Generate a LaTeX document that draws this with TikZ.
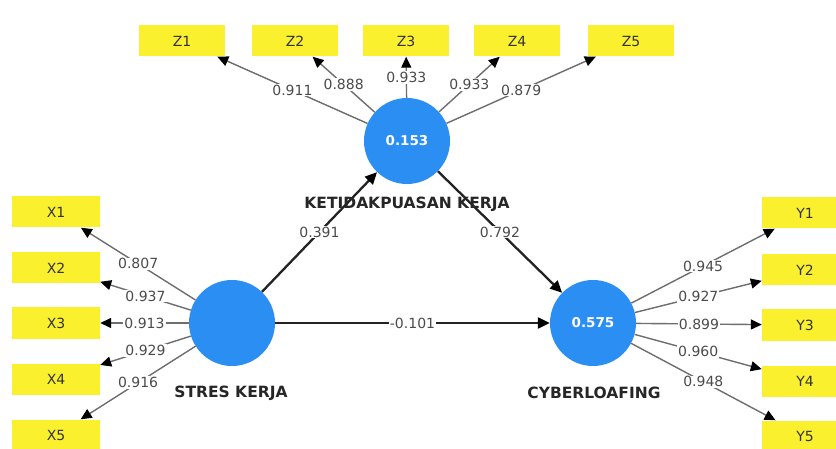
\documentclass[tikz,border=0pt]{standalone}
\usepackage{fontspec}
\setmainfont{DejaVu Sans}
\usetikzlibrary{arrows.meta}
\definecolor{lvblue}{RGB}{42,142,242}
\definecolor{mvyellow}{RGB}{250,240,45}
\definecolor{numgray}{RGB}{75,75,75}
\definecolor{linegray}{RGB}{110,110,110}
\definecolor{pathdark}{RGB}{35,35,35}
\begin{document}
\begin{tikzpicture}[x=1pt,y=-1pt,
  latent/.style={circle,fill=lvblue,minimum size=86pt,inner sep=0pt,text=white,
    font=\fontsize{13.5}{15}\selectfont\bfseries},
  manifest/.style={rectangle,fill=mvyellow,minimum width=86pt,minimum height=31pt,
    inner sep=0pt,text=black!80,font=\fontsize{14}{16}\selectfont},
  lvname/.style={text=black!85,font=\fontsize{15.5}{17}\selectfont\bfseries},
  loading/.style={draw=linegray,line width=1.4pt,
    -{Triangle[length=11pt,width=10pt,color=black]}},
  structural/.style={draw=pathdark,line width=2.3pt,
    -{Triangle[length=12pt,width=11pt,color=black]}},
  lab/.style={fill=white,inner sep=1pt,text=numgray,
    font=\fontsize{14}{16}\selectfont},
]
\clip (0,0) rectangle (836,449);
\fill[white] (0,0) rectangle (836,449);

% latent variables
\node[latent] (kk) at (407,141) {0.153};
\node[latent] (sk) at (232,323) {};
\node[latent] (cy) at (593,323) {0.575};

% indicators Z
\node[manifest] (z1) at (182,41) {Z1};
\node[manifest] (z2) at (295,41) {Z2};
\node[manifest] (z3) at (406,41) {Z3};
\node[manifest] (z4) at (517,41) {Z4};
\node[manifest] (z5) at (631,41) {Z5};

% indicators X
\node[manifest,minimum width=88pt] (x1) at (56,212) {X1};
\node[manifest,minimum width=88pt] (x2) at (56,268) {X2};
\node[manifest,minimum width=88pt] (x3) at (56,323) {X3};
\node[manifest,minimum width=88pt] (x4) at (56,379) {X4};
\node[manifest,minimum width=88pt] (x5) at (56,435) {X5};

% indicators Y
\node[manifest] (y1) at (805,213) {Y1};
\node[manifest] (y2) at (805,270) {Y2};
\node[manifest] (y3) at (805,325) {Y3};
\node[manifest] (y4) at (805,381) {Y4};
\node[manifest] (y5) at (805,436) {Y5};

% loadings
\draw[loading] (kk) -- node[lab]{0.911} (z1);
\draw[loading] (kk) -- node[lab]{0.888} (z2);
\draw[loading] (kk) -- node[lab]{0.933} (z3);
\draw[loading] (kk) -- node[lab]{0.933} (z4);
\draw[loading] (kk) -- node[lab]{0.879} (z5);

\draw[loading] (sk) -- node[lab]{0.807} (x1);
\draw[loading] (sk) -- node[lab]{0.937} (x2);
\draw[loading] (sk) -- node[lab]{0.913} (x3);
\draw[loading] (sk) -- node[lab]{0.929} (x4);
\draw[loading] (sk) -- node[lab]{0.916} (x5);

\draw[loading] (cy) -- node[lab]{0.945} (y1);
\draw[loading] (cy) -- node[lab]{0.927} (y2);
\draw[loading] (cy) -- node[lab]{0.899} (y3);
\draw[loading] (cy) -- node[lab]{0.960} (y4);
\draw[loading] (cy) -- node[lab]{0.948} (y5);

% structural paths
\draw[structural] (sk) -- node[lab]{0.391} (kk);
\draw[structural] (kk) -- node[lab]{0.792} (cy);
\draw[structural] (sk) -- node[lab]{-0.101} (cy);

% names
\node[lvname] (kkname) at (407,204) {KETIDAKPUASAN KERJA};
\node[lvname] (skname) at (231,393) {STRES KERJA};
\node[lvname] (cyname) at (594,393) {CYBERLOAFING};
\end{tikzpicture}
\end{document}
